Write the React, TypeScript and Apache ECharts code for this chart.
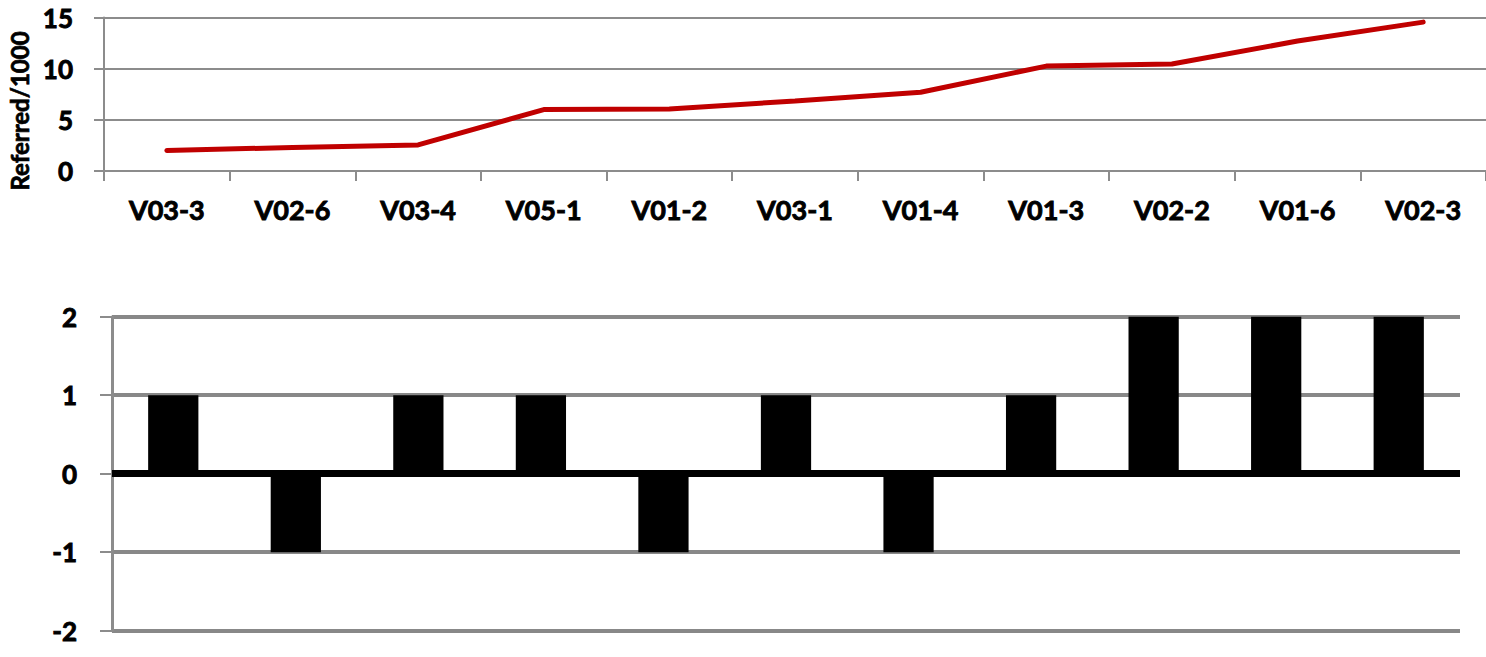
import React, { useEffect, useRef } from "react";
import * as echarts from "echarts";

const categories = ["V03-3", "V02-6", "V03-4", "V05-1", "V01-2", "V03-1", "V01-4", "V01-3", "V02-2", "V01-6", "V02-3"];
const referredValues = [2.0, 2.3, 2.55, 6.0, 6.05, 6.85, 7.7, 10.25, 10.45, 12.7, 14.55];
const scoreValues = [1, -1, 1, 1, -1, 1, -1, 1, 2, 2, 2];
const topTicks = { min: 0, max: 15, interval: 5 };
const bottomTicks = { min: -2, max: 2, interval: 1 };
const yAxisTitle = "Referred/1000";

const FONT = "Lato";
const labelStyle = {
  color: "#000",
  fontFamily: FONT,
  fontWeight: "bold",
  fontSize: 26,
  textBorderColor: "#000",
  textBorderWidth: 0.9,
};

export default function App() {
  const ref = useRef<HTMLDivElement>(null);
  useEffect(() => {
    document.body.style.margin = "0";
    const chart = echarts.init(ref.current!, null, { renderer: "svg" });
    chart.setOption({
      animation: false,
      backgroundColor: "#ffffff",
      grid: [
        { left: 104, top: 17.5, width: 1382, height: 153.5, containLabel: false },
        { left: 112, top: 316.7, width: 1348, height: 314, containLabel: false },
      ],
      graphic: [
        {
          type: "text",
          x: 19,
          y: 111,
          rotation: Math.PI / 2,
          style: {
            text: yAxisTitle,
            fill: "#000",
            font: `bold 24px ${FONT}`,
            textAlign: "center",
            textVerticalAlign: "middle",
            stroke: "#000",
            lineWidth: 0.7,
          },
        },
      ],
      xAxis: [
        {
          type: "category",
          gridIndex: 0,
          data: categories,
          boundaryGap: true,
          axisLine: { show: true, lineStyle: { color: "#8c8c8c", width: 2 } },
          axisTick: { show: true, length: 10, alignWithLabel: false, lineStyle: { color: "#8c8c8c", width: 2 } },
          axisLabel: { ...labelStyle, fontSize: 27, margin: 25, interval: 0 },
          splitLine: { show: false },
        },
        {
          type: "category",
          gridIndex: 1,
          data: categories,
          boundaryGap: true,
          axisLine: { show: true, onZero: true, lineStyle: { color: "#000", width: 7, cap: "butt" } },
          axisTick: { show: false },
          axisLabel: { show: false },
          splitLine: { show: false },
        },
      ],
      yAxis: [
        {
          type: "value",
          gridIndex: 0,
          min: topTicks.min,
          max: topTicks.max,
          interval: topTicks.interval,
          axisLine: { show: true, lineStyle: { color: "#8c8c8c", width: 2 } },
          axisTick: { show: true, length: 10, lineStyle: { color: "#8c8c8c", width: 2 } },
          axisLabel: { ...labelStyle, margin: 31 },
          splitLine: { show: true, lineStyle: { color: "#8c8c8c", width: 2 } },
        },
        {
          type: "value",
          gridIndex: 1,
          min: bottomTicks.min,
          max: bottomTicks.max,
          interval: bottomTicks.interval,
          axisLine: { show: true, lineStyle: { color: "#8c8c8c", width: 3 } },
          axisTick: { show: true, length: 12, lineStyle: { color: "#8c8c8c", width: 2 } },
          axisLabel: { ...labelStyle, margin: 35 },
          splitLine: { show: true, lineStyle: { color: "#888888", width: 4 } },
        },
      ],
      series: [
        {
          type: "line",
          xAxisIndex: 0,
          yAxisIndex: 0,
          data: referredValues,
          symbol: "none",
          lineStyle: { color: "#c00000", width: 5, cap: "round" },
          itemStyle: { color: "#c00000" },
        },
        {
          type: "bar",
          xAxisIndex: 1,
          yAxisIndex: 1,
          data: scoreValues,
          barWidth: "41%",
          itemStyle: { color: "#000" },
        },
      ],
    });
    return () => chart.dispose();
  }, []);
  return <div ref={ref} style={{ width: 1486, height: 657 }} />;
}
